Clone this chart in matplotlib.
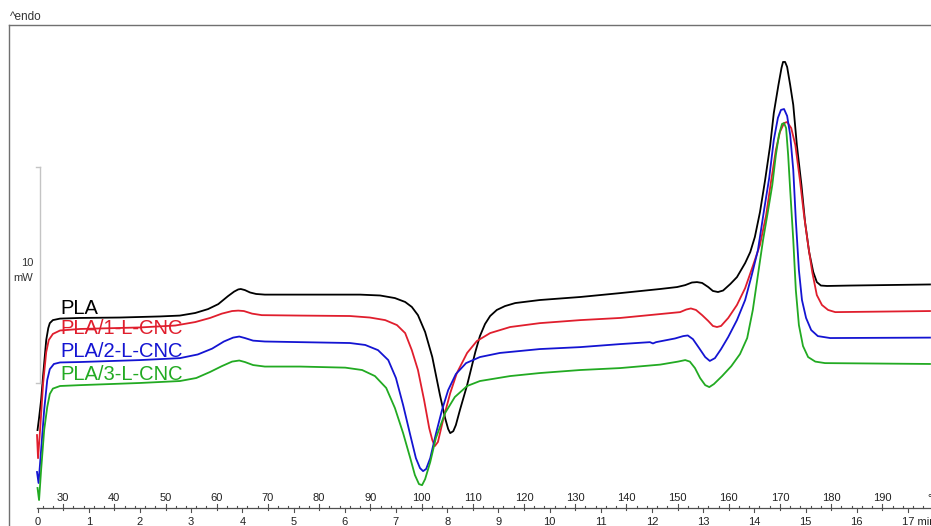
import matplotlib
matplotlib.use('Agg')
from matplotlib import pyplot as plt

# DSC heating scan, 10 K/min: temperature (degC) vs heat flow (mW, endo up)
temp_pla = [25.0, 25.3, 25.7, 26.1, 26.7, 27.1, 27.4, 28.0, 29.4, 33.3, 41.1, 48.9, 52.8, 55.8, 58.3,
            60.3, 62.2, 63.4, 64.2, 64.7, 65.5, 66.5, 67.7, 69.4, 76.3, 88.0, 91.9, 94.8, 96.8,
            98.1, 99.3, 100.7, 102.1, 103.6, 104.6, 105.2, 105.6, 106.2, 106.7, 107.5, 108.9, 110.5,
            111.4, 112.4, 113.4, 114.7, 116.3, 118.3, 123.1, 131.0, 138.8, 146.6, 149.9, 151.5,
            152.8, 153.8, 154.8, 156.0, 156.9, 157.9, 158.9, 160.3, 161.6, 163.2, 164.2, 165.1,
            166.1, 167.1, 168.1, 168.8, 169.7, 170.3, 170.6, 171.0, 171.4, 172.0, 172.6, 173.3,
            174.2, 174.9, 175.7, 176.5, 177.2, 178.0, 179.2, 183.7, 199.3]
hf_pla = [3.24, 3.80, 4.63, 5.79, 7.41, 7.96, 8.19, 8.33, 8.40, 8.43, 8.45, 8.50, 8.54, 8.66, 8.84,
          9.07, 9.44, 9.65, 9.75, 9.77, 9.72, 9.61, 9.54, 9.51, 9.51, 9.51, 9.47, 9.35, 9.17,
          8.94, 8.56, 7.78, 6.62, 4.86, 3.80, 3.29, 3.10, 3.19, 3.47, 4.17, 5.32, 6.85,
          7.59, 8.15, 8.52, 8.80, 8.98, 9.12, 9.26, 9.40, 9.58, 9.77, 9.86, 9.95,
          10.07, 10.09, 10.05, 9.86, 9.68, 9.63, 9.70, 10.00, 10.32, 10.97, 11.48, 12.18,
          13.33, 14.81, 16.44, 17.92, 19.21, 20.00, 20.28, 20.28, 20.05, 19.21, 18.29, 16.44,
          14.58, 12.87, 11.48, 10.56, 10.09, 9.93, 9.91, 9.93, 9.98]

temp_1 = [24.9, 25.1, 25.5, 26.1, 26.7, 27.2, 28.0, 29.4, 33.3, 45.0, 51.9, 55.8, 58.7, 61.0, 63.0,
          64.2, 65.3, 66.9, 68.8, 76.3, 86.0, 89.9, 92.9, 95.2, 96.8, 98.1, 99.3, 100.5, 101.5,
          102.1, 102.6, 103.2, 104.2, 105.6, 106.9, 108.9, 110.8, 113.4, 117.3, 123.1, 131.0, 138.8,
          146.6, 150.5, 151.7, 152.6, 153.6, 154.8, 156.0, 156.9, 157.7, 158.5, 159.9, 161.6, 163.2,
          164.7, 166.1, 167.3, 168.3, 169.2, 170.0, 170.8, 171.4, 172.2, 173.0, 173.9, 174.7, 175.5,
          176.3, 177.2, 178.2, 179.4, 180.8, 199.3]
hf_1 = [3.01, 1.94, 3.24, 5.42, 6.85, 7.41, 7.69, 7.85, 7.92, 7.99, 8.08, 8.24, 8.43, 8.63, 8.75,
        8.77, 8.75, 8.63, 8.56, 8.54, 8.52, 8.45, 8.33, 8.10, 7.73, 6.94, 6.02, 4.63, 3.33,
        2.78, 2.50, 2.69, 3.70, 4.95, 5.88, 6.81, 7.36, 7.73, 8.01, 8.19, 8.33, 8.43,
        8.61, 8.70, 8.82, 8.87, 8.80, 8.56, 8.29, 8.06, 8.01, 8.06, 8.43, 9.03, 9.81,
        10.83, 11.81, 13.19, 14.81, 16.20, 17.04, 17.45, 17.50, 17.22, 16.44, 14.81, 13.19, 11.81,
        10.56, 9.49, 9.03, 8.80, 8.70, 8.75]

temp_2 = [24.9, 25.2, 25.7, 26.3, 26.9, 27.4, 28.2, 29.4, 33.3, 45.0, 52.8, 56.3, 59.1, 61.4, 63.2,
          64.4, 65.5, 67.1, 69.4, 76.3, 86.0, 89.0, 91.5, 93.5, 95.0, 96.4, 97.8, 98.9, 99.7,
          100.3, 100.9, 101.7, 102.8, 104.0, 105.2, 106.7, 108.7, 111.4, 115.3, 123.1, 131.0, 138.8,
          144.6, 145.2, 145.8, 149.5, 151.1, 152.0, 153.0, 154.2, 155.4, 156.3, 157.3, 158.5, 159.9,
          161.6, 163.2, 164.5, 165.7, 166.9, 167.9, 168.8, 169.6, 170.2, 170.8, 171.4, 172.0, 172.6,
          173.1, 173.7, 174.3, 175.1, 176.1, 177.4, 179.8, 199.3]
hf_2 = [1.30, 0.79, 2.31, 4.17, 5.56, 6.06, 6.30, 6.37, 6.39, 6.48, 6.57, 6.74, 7.01, 7.34, 7.52,
        7.57, 7.50, 7.38, 7.34, 7.31, 7.27, 7.18, 6.94, 6.48, 5.65, 4.40, 3.01, 1.94, 1.48,
        1.34, 1.44, 1.94, 3.06, 4.17, 5.09, 5.83, 6.34, 6.62, 6.81, 6.99, 7.08, 7.22,
        7.31, 7.25, 7.31, 7.48, 7.59, 7.62, 7.45, 7.04, 6.62, 6.44, 6.57, 6.99, 7.55,
        8.33, 9.26, 10.42, 11.57, 13.43, 14.91, 16.67, 17.69, 18.06, 18.10, 17.78, 16.90, 15.28,
        12.96, 10.65, 9.26, 8.43, 7.87, 7.59, 7.50, 7.52]

temp_3 = [25.0, 25.3, 25.7, 26.3, 26.9, 27.4, 28.0, 29.4, 33.3, 45.0, 52.8, 56.0, 58.7, 61.0, 63.0,
          64.4, 65.5, 67.1, 69.4, 76.3, 85.1, 88.4, 90.9, 93.1, 94.8, 96.4, 97.8, 98.7, 99.5,
          100.1, 100.7, 101.7, 102.8, 104.6, 106.5, 108.9, 111.4, 117.3, 123.1, 131.0, 138.8, 146.6,
          150.1, 151.5, 152.4, 153.4, 154.4, 155.4, 156.2, 157.1, 158.7, 160.5, 162.2, 163.6, 164.7,
          165.7, 166.7, 167.7, 168.5, 169.2, 169.8, 170.4, 170.8, 171.2, 171.6, 172.0, 172.6, 173.1,
          173.7, 174.5, 175.5, 176.9, 178.8, 199.3]
hf_3 = [0.56, 0.00, 1.39, 3.24, 4.31, 4.91, 5.16, 5.28, 5.32, 5.42, 5.51, 5.65, 5.93, 6.20, 6.41,
        6.46, 6.39, 6.25, 6.18, 6.18, 6.13, 6.02, 5.74, 5.19, 4.26, 3.10, 1.94, 1.16, 0.74,
        0.69, 0.97, 1.76, 2.87, 4.03, 4.77, 5.28, 5.51, 5.74, 5.88, 6.02, 6.11, 6.27,
        6.41, 6.48, 6.41, 6.11, 5.65, 5.32, 5.23, 5.37, 5.74, 6.20, 6.76, 7.50, 8.80,
        10.42, 12.04, 13.43, 14.58, 15.97, 16.90, 17.41, 17.45, 17.22, 15.97, 14.35, 12.04, 9.72,
        8.10, 7.13, 6.62, 6.41, 6.34, 6.30]

names = ['PLA', 'PLA/1-L-CNC', 'PLA/2-L-CNC', 'PLA/3-L-CNC']
colors = ['black', '#e01e2d', '#1414d2', '#22aa22']
label_y = [8.61, 7.69, 6.62, 5.56]

temp_labels = list(range(30, 200, 10))
time_labels = list(range(0, 18))
t_start = 25.0
rate = 10.0  # K/min

fig = plt.figure(figsize=(9.31, 5.26), dpi=100)
ax = fig.add_axes([9 / 931, 0, 1 - 9 / 931, 1 - 25 / 526])
ax.set_xlim(19.43, 199.5)
ax.set_ylim(-1.20, 21.99)
ax.set_xticks([])
ax.set_yticks([])
for s in ['right', 'bottom']:
    ax.spines[s].set_visible(False)
for s in ['top', 'left']:
    ax.spines[s].set_color('#707070')
    ax.spines[s].set_linewidth(1.0)

curves = [(temp_pla, hf_pla), (temp_1, hf_1), (temp_2, hf_2), (temp_3, hf_3)]
for (t, h), c, name, ly in zip(curves, colors, names, label_y):
    ax.plot(t, h, color=c, lw=1.3, solid_joinstyle='round')
    ax.text(29.4, ly, name, color=c, fontsize=14.5, family='Liberation Sans', va='baseline')

# scale bar 10 mW
ax.plot([25.5, 25.5], [5.42, 15.42], color='#c4c4c4', lw=1)
ax.plot([24.8, 25.5], [15.42, 15.42], color='#c4c4c4', lw=1)
ax.plot([24.8, 25.5], [5.42, 5.42], color='#c4c4c4', lw=1)
ax.text(24.2, 10.99, '10', ha='right', va='center', fontsize=8, family='Liberation Sans', color='#333333')
ax.text(24.2, 10.28, 'mW', ha='right', va='center', fontsize=8, family='Liberation Sans', color='#333333')

# ruler: temperature above, time below
ry = -0.37
px = 1 / 21.6
ax.plot([24.9, 205], [ry, ry], color='#505050', lw=0.9)
for T in range(26, 201, 2):
    h = 4 * px if T % 10 == 0 else 2 * px
    ax.plot([T, T], [ry, ry + h], color='#505050', lw=0.8)
for k in range(0, 36):
    T = t_start + rate * k / 2
    h = 4 * px if k % 2 == 0 else 2 * px
    ax.plot([T, T], [ry, ry - h], color='#505050', lw=0.8)
for T in temp_labels:
    ax.text(T, ry + 5 * px, str(T), ha='center', va='bottom', fontsize=8,
            family='Liberation Sans', color='#222222')
ax.text(200, ry + 5 * px, '°C', ha='center', va='bottom', fontsize=8,
        family='Liberation Sans', color='#222222', clip_on=False)
for m in time_labels:
    s = str(m) if m < 17 else '17 min'
    ha = 'center' if m < 17 else 'left'
    x = t_start + rate * m if m < 17 else t_start + rate * m - 1.2
    ax.text(x, ry - 9 * px, s, ha=ha, va='top', fontsize=8,
            family='Liberation Sans', color='#222222')

fig.text(10 / 931, 1 - 17 / 526, '^endo', va='center', ha='left', fontsize=8.5,
         family='Liberation Sans', color='#333333')

fig.savefig('out.png', dpi=100)
plt.close(fig)
